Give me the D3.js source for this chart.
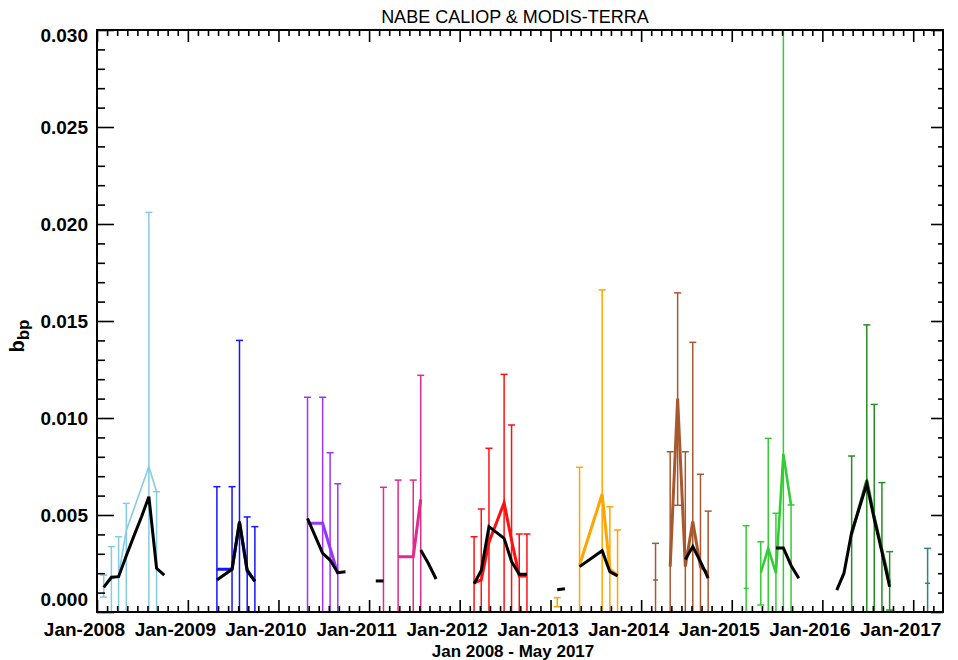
<!DOCTYPE html>
<html><head><meta charset="utf-8">
<script src="https://cdn.jsdelivr.net/npm/d3@7/dist/d3.min.js"></script>
<style>body{margin:0;background:#fff;} svg{display:block;}</style>
</head><body><svg id="c" width="958" height="660"></svg>
<script>
// ---------- data ----------
const chartTitle = "NABE CALIOP & MODIS-TERRA";
const xAxisTitle = "Jan 2008 - May 2017";
const yTickValues = [0, 0.005, 0.010, 0.015, 0.020, 0.025, 0.030];
const yTickLabels = ["0.000", "0.005", "0.010", "0.015", "0.020", "0.025", "0.030"];
const xTickYears = [2008, 2009, 2010, 2011, 2012, 2013, 2014, 2015, 2016, 2017];
const xTickLabels = ["Jan-2008", "Jan-2009", "Jan-2010", "Jan-2011", "Jan-2012", "Jan-2013", "Jan-2014", "Jan-2015", "Jan-2016", "Jan-2017"];
const years = [2008, 2009, 2010, 2011, 2012, 2013, 2014, 2015, 2016, 2017];

// CALIOP error bars (month of year, lower end, upper end)
const barMonths = [
  [1, 2, 3, 4, 7, 8],
  [4, 6, 7, 8, 9],
  [4, 6, 7, 8],
  [2, 4, 6, 7],
  [2, 3, 4, 6, 7, 8, 9],
  [1, 4, 7, 8, 9],
  [2, 4, 5, 6, 7, 8, 9],
  [2, 4, 5, 6, 7, 8],
  [4, 6, 7, 8, 9],
  [2]
];
const barLow = [
  [0.00077, 0, 0, 0, 0, 0],
  [0, 0, 0, 0, 0],
  [0, 0, 0, 0],
  [0, 0, 0, 0],
  [0, 0, 0, 0, 0, 0, 0],
  [0.00027, 0, 0, 0, 0],
  [0, 0, 0.0055, 0, 0, 0, 0],
  [0, 0.00036, 0, 0, 0, 0],
  [0, 0, 0, 0, 0.0001],
  [0]
];
const barHigh = [
  [0.0019, 0.00337, 0.00388, 0.0056, 0.0206, 0.0062],
  [0.00646, 0.00646, 0.0140, 0.0049, 0.0044],
  [0.01107, 0.01107, 0.00821, 0.00661],
  [0.00643, 0.0068, 0.0068, 0.0122],
  [0.00388, 0.00531, 0.00844, 0.01225, 0.00964, 0.00402, 0.00402],
  [0.00074, 0.00746, 0.0166, 0.00543, 0.00423],
  [0.00354, 0.00826, 0.01645, 0.00826, 0.0139, 0.0071, 0.0052],
  [0.00445, 0.00362, 0.00895, 0.00509, 0.0320, 0.00552],
  [0.00804, 0.0148, 0.0107, 0.00667, 0.00311],
  [0.00328]
];

// CALIOP monthly means (coloured lines); null = gap
const caliopMonths = [
  [1, 2, 3, 4, 7, 8],
  [4, 6, 7, 8, 9],
  [4, 6, 7, 8],
  [4, 6, 7],
  [2, 3, 4, 6, 7, 8, 9],
  [4, 7, 8, 9],
  [2, 3, 4, 5, 6, 7, 8, 9],
  [2, 3, 4, 5, 6, 7, 8],
  [4, 6, 7, 8, 9],
  [2]
];
const caliopValues = [
  [0.00134, 0.0017, 0.0019, 0.0042, 0.0075, 0.0062],
  [0.0022, 0.0022, 0.0046, 0.0021, 0.0016],
  [0.00457, 0.00457, 0.0033, 0.00196],
  [0.00285, 0.00285, 0.0058],
  [0.0015, 0.00165, 0.0036, 0.00563, 0.0037, 0.00186, 0.00186],
  [0.00242, 0.00608, 0.0022, 0.0019],
  [0.00165, null, 0.00234, 0.0110, 0.00234, 0.00466, 0.00234, 0.0020],
  [0.00122, null, 0.00203, 0.00328, 0.0020, 0.00814, 0.0055],
  [0.0040, 0.0068, 0.0049, 0.0032, 0.0015],
  [0.00148]
];

// MODIS-Terra monthly means (black lines); null = gap
const modisMonths = [
  [1, 2, 3, 4, 5, 6, 7, 8, 9],
  [4, 6, 7, 8, 9],
  [4, 6, 7, 8, 9],
  [1, 2, 3, 7, 8, 9],
  [2, 3, 4, 6, 7, 8, 9],
  [1, 2, 3, 4, 7, 8, 9],
  [6, 7, 8, 9],
  [6, 7, 8, 9],
  [2, 3, 4, 6, 7, 8, 9],
  []
];
const modisValues = [
  [0.00127, 0.00179, 0.00182, 0.0029, 0.0039, 0.0049, 0.00594, 0.00225, 0.0019],
  [0.00165, 0.0022, 0.00466, 0.00217, 0.00158],
  [0.00483, 0.00302, 0.00268, 0.00203, 0.00208],
  [0.0016, 0.0016, null, 0.0032, 0.0025, 0.0017],
  [0.00146, 0.00214, 0.0044, 0.0038, 0.0026, 0.00195, 0.00195],
  [0.00115, 0.0012, null, 0.00234, 0.00316, 0.00208, 0.00186],
  [0.0027, 0.00337, 0.0026, 0.00174],
  [0.0033, 0.0033, 0.0024, 0.00174],
  [0.00113, 0.0020, 0.0041, 0.0066, 0.0048, 0.0031, 0.0013],
  []
];

// ---------- styles ----------
const seriesColors = ["#84cbe6", "#1414ff", "#9a35ff", "#e02a8c", "#ff1010", "#ffa500", "#a8582f", "#33cc33", "#248c24", "#26887f"];
const caliopWidths = [1.6, 3, 3, 3, 3, 3, 3, 2.6, 3, 3];

// ---------- layout ----------
const L = 97, R = 943, T = 30, B = 612;
const svg = d3.select("#c");
const x = d3.scaleTime().domain([new Date(2008, 0, 1), new Date(2017, 4, 1)]).range([L, R]);
const y = d3.scaleLinear().domain([0, 0.03]).range([B, T]);
const dt = (yr, m) => new Date(yr, m - 1, 28);

svg.append("defs").append("clipPath").attr("id", "clip")
  .append("rect").attr("x", L).attr("y", T).attr("width", R - L).attr("height", B - T);
const plot = svg.append("g").attr("clip-path", "url(#clip)");

// error bars
years.forEach((yr, i) => {
  const g = plot.append("g").attr("stroke", seriesColors[i]).attr("stroke-width", 1.5).attr("fill", "none");
  barMonths[i].forEach((m, j) => {
    const xp = x(dt(yr, m));
    const y0 = y(barLow[i][j]), y1 = y(barHigh[i][j]);
    g.append("line").attr("x1", xp).attr("x2", xp).attr("y1", y0).attr("y2", y1);
    g.append("line").attr("x1", xp - 3.5).attr("x2", xp + 3.5).attr("y1", y1).attr("y2", y1);
    if (barLow[i][j] > 0)
      g.append("line").attr("x1", xp - 3.5).attr("x2", xp + 3.5).attr("y1", y0).attr("y2", y0);
  });
});

function drawSeries(yr, months, vals, color, width) {
  const pts = months.map((m, j) => ({ d: dt(yr, m), v: vals[j] }));
  const runs = []; let cur = [];
  pts.forEach(p => { if (p.v == null) { if (cur.length) runs.push(cur); cur = []; } else cur.push(p); });
  if (cur.length) runs.push(cur);
  const line = d3.line().x(p => x(p.d)).y(p => y(p.v));
  runs.forEach(run => {
    if (run.length === 1) {
      const xp = x(run[0].d), yp = y(run[0].v);
      plot.append("line").attr("x1", xp - 2.5).attr("x2", xp + 2.5).attr("y1", yp).attr("y2", yp)
        .attr("stroke", color).attr("stroke-width", 1.5);
    } else {
      plot.append("path").attr("d", line(run)).attr("fill", "none")
        .attr("stroke", color).attr("stroke-width", width).attr("stroke-linejoin", "miter");
    }
  });
}
years.forEach((yr, i) => drawSeries(yr, caliopMonths[i], caliopValues[i], seriesColors[i], caliopWidths[i]));
years.forEach((yr, i) => drawSeries(yr, modisMonths[i], modisValues[i], "#000", 3));

// ---------- axes ----------
const majorDates = xTickYears.map(yy => new Date(yy, 0, 1));
const minorDates = [];
xTickYears.forEach(yy => {
  const a = x(new Date(yy, 0, 1)), b = x(new Date(yy + 1, 0, 1));
  for (let k = 1; k < 9; k++) { const px = a + (b - a) * k / 9; if (px < R - 0.5) minorDates.push(x.invert(px)); }
});
const minorY = d3.range(0, 0.0301, 0.001).filter(v => Math.abs(v / 0.005 - Math.round(v / 0.005)) > 1e-6);

function styleAxis(g) { g.select(".domain").remove(); g.selectAll("line").attr("stroke", "#000").attr("stroke-width", 1.6); }

// bottom
svg.append("g").attr("transform", `translate(0,${B})`)
  .call(d3.axisBottom(x).tickValues(minorDates).tickSize(-6).tickFormat("")).call(styleAxis);
const bx = svg.append("g").attr("transform", `translate(0,${B})`)
  .call(d3.axisBottom(x).tickValues(majorDates).tickSize(-12).tickPadding(0).tickFormat((d, i) => xTickLabels[i])).call(styleAxis);
bx.selectAll("text").attr("font-family", "Liberation Sans, Arial, sans-serif").attr("font-weight", "bold")
  .attr("font-size", 19).attr("fill", "#000").attr("dx", -13).attr("y", 24).attr("dy", 0);
// top
svg.append("g").attr("transform", `translate(0,${T})`)
  .call(d3.axisTop(x).tickValues(minorDates).tickSize(-6).tickFormat("")).call(styleAxis);
svg.append("g").attr("transform", `translate(0,${T})`)
  .call(d3.axisTop(x).tickValues(majorDates).tickSize(-12).tickFormat("")).call(styleAxis);
// left
svg.append("g").attr("transform", `translate(${L},0)`)
  .call(d3.axisLeft(y).tickValues(minorY).tickSize(-8).tickFormat("")).call(styleAxis);
const ly = svg.append("g").attr("transform", `translate(${L},0)`)
  .call(d3.axisLeft(y).tickValues(yTickValues).tickSize(-17).tickPadding(9).tickFormat((d, i) => yTickLabels[i])).call(styleAxis);
ly.selectAll("text").attr("font-family", "Liberation Sans, Arial, sans-serif").attr("font-weight", "bold")
  .attr("font-size", 19).attr("fill", "#000");
ly.selectAll(".tick").filter((d, i) => i === 0).select("text").attr("dy", "-0.35em");
ly.selectAll(".tick").filter((d, i) => i === yTickValues.length - 1).select("text").attr("dy", "0.6em");
// right
svg.append("g").attr("transform", `translate(${R},0)`)
  .call(d3.axisRight(y).tickValues(minorY).tickSize(-5).tickFormat("")).call(styleAxis);
svg.append("g").attr("transform", `translate(${R},0)`)
  .call(d3.axisRight(y).tickValues(yTickValues).tickSize(-12).tickFormat("")).call(styleAxis);

// frame
svg.append("rect").attr("x", L).attr("y", T).attr("width", R - L).attr("height", B - T)
  .attr("fill", "none").attr("stroke", "#000").attr("stroke-width", 2);

// titles
svg.append("text").attr("x", 515).attr("y", 23).attr("text-anchor", "middle")
  .attr("font-family", "Liberation Sans, Arial, sans-serif").attr("font-size", 18).text(chartTitle);
svg.append("text").attr("x", 513).attr("y", 657).attr("text-anchor", "middle")
  .attr("font-family", "Liberation Sans, Arial, sans-serif").attr("font-weight", "bold").attr("font-size", 17).text(xAxisTitle);
const yl = svg.append("text").attr("transform", "translate(24,336) rotate(-90)").attr("text-anchor", "middle")
  .attr("font-family", "Liberation Sans, Arial, sans-serif").attr("font-weight", "bold").attr("font-size", 20);
yl.append("tspan").text("b");
yl.append("tspan").attr("dy", 5).attr("font-size", 17).text("bp");
</script></body></html>
